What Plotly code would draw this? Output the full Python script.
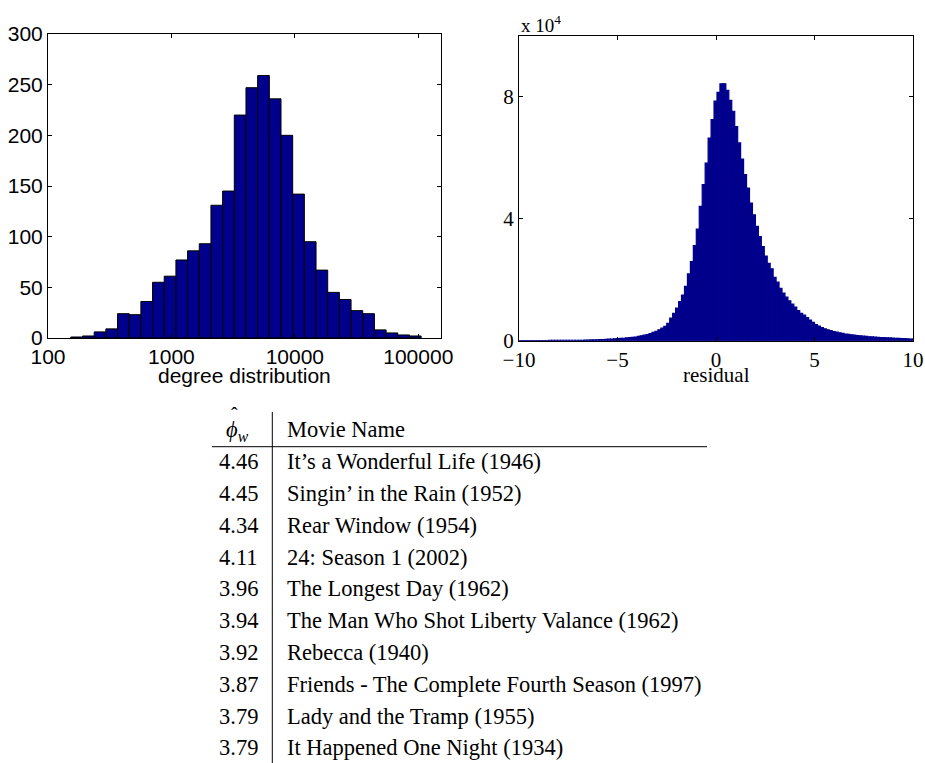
import plotly.graph_objects as go

# ---------------- data ----------------
# Left: histogram of log10(degree), 30 equal-width bins in log10 space
deg_bin_start_log10 = 2.185
deg_bin_width_log10 = 0.0946
deg_counts = [1, 2, 6, 9, 24, 23, 36, 55, 61, 77, 86, 93, 131, 145, 220,
              247, 259, 236, 200, 142, 95, 67, 45, 38, 27, 24, 8, 5, 3, 2]
deg_tick_vals = [2, 3, 4, 5]
deg_tick_text = ["100", "1000", "10000", "100000"]

# Right: histogram of residuals, bins of width 0.15 starting at -10 (counts in units of 1e4)
res_bin_start = -10.0
res_bin_width = 0.15
res_counts_1e4 = [
    0.005, 0.005, 0.005, 0.005, 0.005, 0.005, 0.005, 0.005, 0.005, 0.005,
    0.01, 0.01, 0.01, 0.01, 0.01, 0.01, 0.01, 0.01, 0.01, 0.01,
    0.015, 0.015, 0.02, 0.02, 0.025, 0.025, 0.03, 0.035, 0.04, 0.045,
    0.05, 0.055, 0.06, 0.07, 0.075, 0.08, 0.09, 0.10, 0.11, 0.12,
    0.14, 0.16, 0.18, 0.20, 0.23, 0.27, 0.31, 0.36, 0.41, 0.47,
    0.57, 0.74, 0.90, 1.07, 1.28, 1.50, 1.78, 2.19, 2.60, 3.12,
    3.66, 4.41, 5.12, 5.83, 6.65, 7.26, 7.86, 8.15, 8.43, 8.43,
    8.22, 7.89, 7.53, 7.03, 6.49, 5.96, 5.45, 5.01, 4.52, 4.13,
    3.75, 3.42, 3.09, 2.78, 2.54, 2.36, 2.08, 1.92, 1.72, 1.56,
    1.43, 1.31, 1.20, 1.10, 0.99, 0.90, 0.84, 0.76, 0.68, 0.60,
    0.53, 0.48, 0.43, 0.39, 0.36, 0.33, 0.30, 0.28, 0.26, 0.24,
    0.22, 0.21, 0.19, 0.18, 0.17, 0.16, 0.15, 0.14, 0.13, 0.125,
    0.12, 0.11, 0.105, 0.10, 0.095, 0.09, 0.085, 0.08, 0.075, 0.07,
    0.065, 0.06, 0.055, 0.05,
]
res_tick_vals = [-10, -5, 0, 5, 10]
res_tick_text = ["\u221210", "\u22125", "0", "5", "10"]
res_ytick_vals = [0, 40000, 80000]
res_ytick_text = ["0", "4", "8"]

# Table
phi_values = ["4.46", "4.45", "4.34", "4.11", "3.96", "3.94", "3.92", "3.87", "3.79", "3.79"]
movie_names = [
    "It\u2019s a Wonderful Life (1946)",
    "Singin\u2019 in the Rain (1952)",
    "Rear Window (1954)",
    "24: Season 1 (2002)",
    "The Longest Day (1962)",
    "The Man Who Shot Liberty Valance (1962)",
    "Rebecca (1940)",
    "Friends - The Complete Fourth Season (1997)",
    "Lady and the Tramp (1955)",
    "It Happened One Night (1934)",
]

# ---------------- figure ----------------
W, H = 925, 763
NAVY = "#00008C"
SANS = "Liberation Sans, Arial, sans-serif"
SERIF = "Liberation Serif, Times New Roman, serif"


def px(x):
    return x / W


def py(y):
    return 1 - y / H


deg_centers = [deg_bin_start_log10 + deg_bin_width_log10 * (i + 0.5) for i in range(len(deg_counts))]
res_centers = [res_bin_start + res_bin_width * (i + 0.5) for i in range(len(res_counts_1e4))]
res_counts = [v * 1e4 for v in res_counts_1e4]

fig = go.Figure()
fig.add_trace(go.Bar(
    x=deg_centers, y=deg_counts, width=deg_bin_width_log10,
    marker=dict(color=NAVY, line=dict(color="black", width=1)),
    xaxis="x", yaxis="y", showlegend=False,
))
fig.add_trace(go.Bar(
    x=res_centers, y=res_counts, width=res_bin_width,
    marker=dict(color=NAVY, line=dict(color=NAVY, width=1.2)),
    xaxis="x2", yaxis="y2", showlegend=False,
))

axis_common = dict(showline=True, linecolor="black", linewidth=1, mirror="ticks",
                   ticks="inside", ticklen=4, tickcolor="black", tickwidth=1,
                   showgrid=False, zeroline=False, automargin=False)

fig.update_layout(
    width=W, height=H,
    margin=dict(l=0, r=0, t=0, b=0, autoexpand=False),
    paper_bgcolor="white", plot_bgcolor="white",
    bargap=0,
    xaxis=dict(domain=[px(48), px(440.5)], range=[2, 5.18], anchor="y",
               tickvals=deg_tick_vals, ticktext=deg_tick_text,
               tickfont=dict(family=SANS, size=21, color="black"), **axis_common),
    yaxis=dict(domain=[py(338), py(34)], range=[0, 300], anchor="x",
               tickvals=[0, 50, 100, 150, 200, 250, 300],
               tickfont=dict(family=SANS, size=21, color="black"), **axis_common),
    xaxis2=dict(domain=[px(519), px(913)], range=[-10, 10], anchor="y2",
                tickvals=res_tick_vals, ticktext=res_tick_text,
                tickfont=dict(family=SERIF, size=21, color="black"), **axis_common),
    yaxis2=dict(domain=[py(340.7), py(36)], range=[0, 100000], anchor="x2",
                tickvals=res_ytick_vals, ticktext=res_ytick_text,
                tickfont=dict(family=SERIF, size=21, color="black"), **axis_common),
)

TF = dict(family=SERIF, size=22.5, color="black")
annotations = [
    dict(text="degree distribution", x=px(244.5), y=py(375), xanchor="center", yanchor="middle",
         font=dict(family=SANS, size=21, color="black")),
    dict(text="residual", x=px(716), y=py(375), xanchor="center", yanchor="middle",
         font=dict(family=SERIF, size=21, color="black")),
    dict(text="x 10<sup>4</sup>", x=px(519), y=py(24), xanchor="left", yanchor="middle",
         font=dict(family=SERIF, size=19, color="black")),
    dict(text="<i>\u03d5</i><sub><i>w</i></sub>", x=px(224), y=py(431), xanchor="left", yanchor="middle",
         font=TF),
    dict(text="\u02c6", x=px(234), y=py(415), xanchor="center", yanchor="middle",
         font=dict(family=SERIF, size=20, color="black")),
    dict(text="Movie Name", x=px(285), y=py(429), xanchor="left", yanchor="middle", font=TF),
]
row0_y, row_dy = 461.7, 31.8
for i, (v, name) in enumerate(zip(phi_values, movie_names)):
    yy = py(row0_y + row_dy * i)
    annotations.append(dict(text=v, x=px(260), y=yy, xanchor="right", yanchor="middle", font=TF))
    annotations.append(dict(text=name, x=px(285), y=yy, xanchor="left", yanchor="middle", font=TF))
for a in annotations:
    a.update(xref="paper", yref="paper", showarrow=False)
fig.update_layout(annotations=annotations)

fig.update_layout(shapes=[
    dict(type="line", xref="paper", yref="paper", x0=px(272.3), x1=px(272.3), y0=py(412), y1=py(763),
         line=dict(color="black", width=1)),
    dict(type="line", xref="paper", yref="paper", x0=px(212), x1=px(707), y0=py(446.7), y1=py(446.7),
         line=dict(color="black", width=1)),
])

fig.write_html(
    "out.html",
    config={"displayModeBar": False, "staticPlot": True},
    post_script="document.body.style.margin='0px';document.body.style.overflow='hidden';",
)
